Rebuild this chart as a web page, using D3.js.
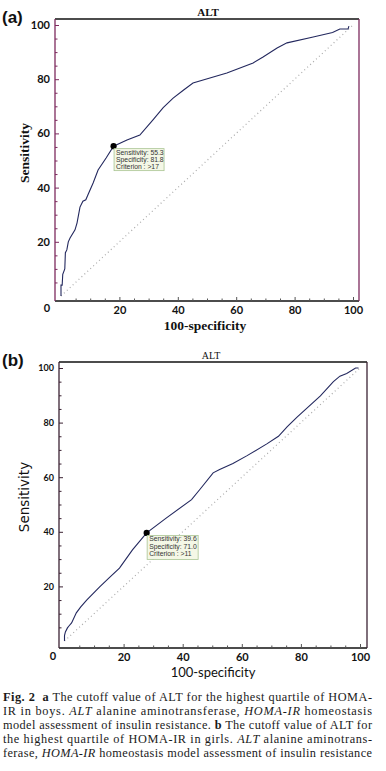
<!DOCTYPE html>
<html>
<head>
<meta charset="utf-8">
<script src="https://cdn.jsdelivr.net/npm/d3@7"></script>
<style>
  body { margin: 0; background: #fff; }
  svg { display: block; }
</style>
</head>
<body>
<svg width="386" height="771"></svg>
<script>
// ROC curve (a) boys: 100-specificity vs sensitivity
var rocA_fpr  = [0, 0, 0.4, 0.6, 1.3, 1.5, 2, 2.5, 3.1, 4.8, 5.5, 6.5, 7.5, 8.5, 9.2, 11, 12.7, 15.5, 18, 22.6, 27, 31.5, 35, 38.4, 42, 45.2, 56.8, 65.8, 69.2, 74, 77.4, 86, 93, 95.5, 98.3, 98.6];
var rocA_sens = [0, 4, 4, 8, 10, 16, 17, 20, 21.4, 24.4, 27, 32.8, 35, 35.5, 37.3, 41.7, 46.5, 51, 55.3, 57.6, 59.4, 65, 69.5, 73, 76, 78.6, 82.3, 86, 88.2, 91.5, 93.4, 95.5, 97.2, 98.5, 98.5, 99.6];

// ROC curve (b) girls
var rocB_fpr  = [0, 0, 0.3, 1, 1.5, 2.4, 4, 5.5, 7.5, 11.9, 15, 18.6, 23, 27.8, 34.4, 43, 45.8, 50.3, 52.5, 57, 61.8, 68.6, 72.4, 75.4, 78.7, 86.6, 91, 93.2, 95.5, 98.5, 99.5];
var rocB_sens = [0, 2, 3.3, 4.8, 5.5, 6.6, 10.3, 12.5, 15, 19.8, 23, 26.7, 33.4, 39.6, 45, 51.8, 55.5, 61.6, 62.8, 65, 67.9, 72.3, 75, 78.5, 82, 89.8, 95, 97, 98, 100, 100];

// optimal cut-off points
var cutA = [18, 55.3];
var cutB = [27.8, 39.6];
var cutA_text = ["Sensitivity: 55.3", "Specificity: 81.8", "Criterion : >17"];
var cutB_text = ["Sensitivity: 39.6", "Specificity: 71.0", "Criterion : >11"];

var majorTicks = [20, 40, 60, 80, 100];
var minorTicks = d3.range(5, 100, 5).filter(function (d) { return d % 20 !== 0; });

var svg = d3.select("svg");

function drawPanel(p) {
  var x = d3.scaleLinear().domain([0, 100]).range([p.x0, p.x1]);
  var y = d3.scaleLinear().domain([0, 100]).range([p.y0, p.y1]);
  var g = svg.append("g");

  // frame
  g.append("line").attr("x1", p.fl).attr("x2", p.fr).attr("y1", p.ft).attr("y2", p.ft).attr("stroke", "#111").attr("stroke-width", 1.3);
  g.append("line").attr("x1", p.fl).attr("x2", p.fr).attr("y1", p.fb).attr("y2", p.fb).attr("stroke", "#111").attr("stroke-width", 1.5);
  g.append("line").attr("x1", p.fl).attr("x2", p.fl).attr("y1", p.ft).attr("y2", p.fb).attr("stroke", p.side).attr("stroke-width", 1.3);
  g.append("line").attr("x1", p.fr).attr("x2", p.fr).attr("y1", p.ft).attr("y2", p.fb).attr("stroke", p.side).attr("stroke-width", 1.3);

  // axes (ticks inside the frame)
  var xAxis = g.append("g").attr("transform", "translate(0," + p.fb + ")")
    .call(d3.axisBottom(x).tickValues(majorTicks).tickSize(-4).tickPadding(p.xPad));
  var xMinor = g.append("g").attr("transform", "translate(0," + p.fb + ")")
    .call(d3.axisBottom(x).tickValues(minorTicks).tickSize(-2.5).tickFormat(""));
  var yAxis = g.append("g").attr("transform", "translate(" + p.fl + ",0)")
    .call(d3.axisLeft(y).tickValues(majorTicks).tickSize(-4).tickPadding(p.yPad));
  var yMinor = g.append("g").attr("transform", "translate(" + p.fl + ",0)")
    .call(d3.axisLeft(y).tickValues(minorTicks).tickSize(-2.5).tickFormat(""));

  [xAxis, xMinor, yAxis, yMinor].forEach(function (a) {
    a.select(".domain").remove();
    a.selectAll("line").attr("stroke", "#555");
  });
  yAxis.selectAll("line").attr("stroke", p.side);
  yMinor.selectAll("line").attr("stroke", p.side);
  xAxis.selectAll("text").attr("font-family", p.tickFont).attr("font-size", p.tickSize)
    .attr("font-weight", p.tickWeight).attr("fill", "#111");
  yAxis.selectAll("text").attr("font-family", p.tickFont).attr("font-size", p.yTickSize)
    .attr("font-weight", p.tickWeight).attr("fill", "#111");

  g.append("text").attr("x", p.zeroX).attr("y", p.zeroY)
    .attr("font-family", p.tickFont).attr("font-size", p.tickSize).attr("font-weight", p.tickWeight)
    .attr("text-anchor", "middle").attr("fill", "#111")
    .text("0");

  // reference diagonal
  g.append("line")
    .attr("x1", x(0)).attr("y1", y(0)).attr("x2", x(100)).attr("y2", y(100))
    .attr("stroke", "#aaa").attr("stroke-width", 1.2).attr("stroke-dasharray", "1,3");

  // ROC curve
  var pts = p.fpr.map(function (d, i) { return [d, p.sens[i]]; });
  g.append("path")
    .datum(pts)
    .attr("fill", "none")
    .attr("stroke", "#23285e")
    .attr("stroke-width", 1.1)
    .attr("d", d3.line().x(function (d) { return x(d[0]); }).y(function (d) { return y(d[1]); }));

  // cut-off point + label box
  var cx = x(p.cut[0]), cy = y(p.cut[1]);
  g.append("path")
    .attr("transform", "translate(" + cx + "," + cy + ")")
    .attr("d", d3.symbol(d3.symbolCircle, 30))
    .attr("fill", "#000");
  g.append("rect")
    .attr("x", cx + 0.5).attr("y", cy + 2.5).attr("width", p.boxW).attr("height", p.boxH)
    .attr("fill", "#f4f7e6").attr("stroke", "#a9c493").attr("stroke-width", 0.8);
  g.append("g").selectAll("text").data(p.cutText).enter().append("text")
    .attr("x", cx + 2.5)
    .attr("y", function (d, i) { return cy + 8.5 + i * p.boxLine; })
    .attr("font-family", "Liberation Sans, Arial, sans-serif")
    .attr("font-size", 6.8)
    .attr("fill", "#333")
    .text(function (d) { return d; });

  // titles
  g.append("text").attr("x", p.titleX).attr("y", p.titleY).attr("text-anchor", "middle")
    .attr("font-family", "Liberation Serif, serif").attr("font-size", p.titleSize)
    .attr("font-weight", p.titleWeight).attr("fill", "#111").text("ALT");
  g.append("text").attr("x", 2).attr("y", p.tagY)
    .attr("font-family", "Liberation Sans, Arial, sans-serif").attr("font-size", 17)
    .attr("font-weight", "bold").attr("fill", "#111").text(p.tag);
  g.append("text").attr("x", p.xtX).attr("y", p.xtY).attr("text-anchor", "middle")
    .attr("font-family", p.xtFont).attr("font-size", p.xtSize).attr("font-weight", p.xtWeight)
    .attr("fill", "#111").text("100-specificity");
  g.append("text")
    .attr("transform", "translate(" + p.ytX + "," + p.ytY + ") rotate(-90)")
    .attr("text-anchor", "middle")
    .attr("font-family", p.ytFont).attr("font-size", 13.5).attr("font-weight", p.ytWeight)
    .attr("fill", "#111").text("Sensitivity");
}

drawPanel({
  fpr: rocA_fpr, sens: rocA_sens, cut: cutA, cutText: cutA_text,
  x0: 61, x1: 353, y0: 296, y1: 25,
  fl: 55, fr: 359, ft: 19, fb: 301, side: "#7d2a5e",
  xPad: 5, yPad: 5, tickFont: "Lato, DejaVu Sans, sans-serif", tickSize: 11, yTickSize: 11, tickWeight: "bold",
  zeroX: 47, zeroY: 312,
  boxW: 50, boxH: 22, boxLine: 7.3,
  titleX: 208, titleY: 16, titleSize: 11, titleWeight: "bold", tag: "(a)", tagY: 23,
  xtX: 205, xtY: 330, xtFont: "Liberation Serif, serif", xtWeight: "bold", xtSize: 13.5,
  ytX: 29, ytY: 153, ytFont: "Liberation Serif, serif", ytWeight: "bold"
});

drawPanel({
  fpr: rocB_fpr, sens: rocB_sens, cut: cutB, cutText: cutB_text,
  x0: 64.5, x1: 360, y0: 641, y1: 368,
  fl: 59, fr: 367, ft: 362, fb: 648, side: "#3b2233",
  xPad: 5, yPad: 5, tickFont: "Lato, DejaVu Sans, sans-serif", tickSize: 11, yTickSize: 9, tickWeight: "bold",
  zeroX: 53, zeroY: 660,
  boxW: 51, boxH: 24, boxLine: 7.3,
  titleX: 211, titleY: 359, titleSize: 10, titleWeight: "normal", tag: "(b)", tagY: 366,
  xtX: 213, xtY: 677, xtFont: "Lato, DejaVu Sans, sans-serif", xtWeight: "normal", xtSize: 13,
  ytX: 29, ytY: 497, ytFont: "DejaVu Sans, sans-serif", ytWeight: "normal"
});

// caption, justified line by line
var captionLines = [
  [["Fig. 2", "b"], ["  ", ""], ["a", "b"], [" The cutoff value of ALT for the highest quartile of HOMA-", ""]],
  [["IR in boys. ", ""], ["ALT", "i"], [" alanine aminotransferase, ", ""], ["HOMA-IR", "i"], [" homeostasis", ""]],
  [["model assessment of insulin resistance. ", ""], ["b", "b"], [" The cutoff value of ALT for", ""]],
  [["the highest quartile of HOMA-IR in girls. ", ""], ["ALT", "i"], [" alanine aminotrans-", ""]],
  [["ferase, ", ""], ["HOMA-IR", "i"], [" homeostasis model assessment of insulin resistance", ""]]
];
var captionY = [701, 715, 729, 743, 757];

var cap = svg.append("g")
  .attr("font-family", "Liberation Serif, Times New Roman, serif")
  .attr("font-size", 12.3)
  .attr("fill", "#1a1a1a");

captionLines.forEach(function (line, i) {
  var t = cap.append("text")
    .attr("x", 3).attr("y", captionY[i])
    .attr("textLength", 369).attr("lengthAdjust", "spacing")
    .attr("xml:space", "preserve");
  line.forEach(function (seg) {
    t.append("tspan")
      .attr("font-weight", seg[1] === "b" ? "bold" : null)
      .attr("font-style", seg[1] === "i" ? "italic" : null)
      .text(seg[0]);
  });
});
</script>
</body>
</html>
